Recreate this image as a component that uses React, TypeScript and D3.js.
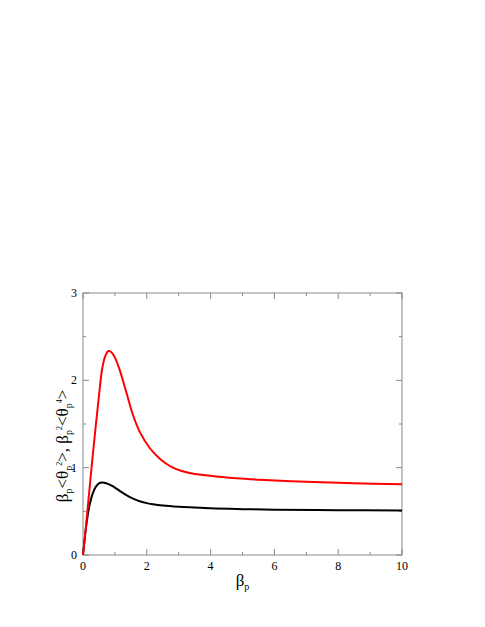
import React from "react";
import * as d3 from "d3";

const redX = [0, 0.1, 0.2, 0.3, 0.4, 0.5, 0.6, 0.7, 0.8, 0.9, 1.0, 1.15, 1.36, 1.57, 1.78, 2.09, 2.4, 2.6, 2.82, 3.05, 3.34, 3.7, 4.18, 4.8, 5.54, 7.0, 8.5, 10];
const redY = [0, 0.36, 0.74, 1.12, 1.48, 1.82, 2.13, 2.28, 2.335, 2.32, 2.26, 2.12, 1.86, 1.6, 1.41, 1.225, 1.105, 1.048, 1.0, 0.967, 0.94, 0.918, 0.9, 0.879, 0.862, 0.838, 0.822, 0.81];
const blackX = [0, 0.05, 0.1, 0.15, 0.2, 0.3, 0.4, 0.5, 0.6, 0.7, 0.8, 0.9, 1.0, 1.15, 1.36, 1.57, 1.8, 2.0, 2.2, 2.5, 3.0, 4.0, 5.0, 6.0, 8.0, 10];
const blackY = [0, 0.17, 0.33, 0.46, 0.56, 0.7, 0.78, 0.82, 0.83, 0.825, 0.812, 0.793, 0.772, 0.735, 0.685, 0.645, 0.613, 0.594, 0.58, 0.566, 0.552, 0.534, 0.525, 0.519, 0.513, 0.51];
const xTicks = [0, 2, 4, 6, 8, 10];
const xMinor = [1, 3, 5, 7, 9];
const yTicks = [0, 1, 2, 3];
const yMinor = [0.5, 1.5, 2.5];

export default function App() {
  const W = 485, H = 627;
  const L = 83, R = 402, T = 293, B = 555;
  const x = d3.scaleLinear().domain([0, 10]).range([L, R]);
  const y = d3.scaleLinear().domain([0, 3]).range([B, T]);
  const line = d3.line<[number, number]>().x(d => x(d[0])).y(d => y(d[1])).curve(d3.curveCatmullRom.alpha(0.5));
  const red = line(redX.map((v, i) => [v, redY[i]] as [number, number])) || "";
  const black = line(blackX.map((v, i) => [v, blackY[i]] as [number, number])) || "";
  const axisColor = "#888";
  const font = "'Liberation Serif', 'Times New Roman', serif";
  return (
    <svg width={W} height={H} style={{ position: "absolute", left: 0, top: 0 }}>
      <rect x={0} y={0} width={W} height={H} fill="#fff" />
      <rect x={L} y={T} width={R - L} height={B - T} fill="none" stroke={axisColor} strokeWidth={1} />
      {xTicks.map(t => (
        <g key={"xt" + t}>
          <line x1={x(t)} x2={x(t)} y1={B} y2={B - 6} stroke={axisColor} />
          <line x1={x(t)} x2={x(t)} y1={T} y2={T + 6} stroke={axisColor} />
          <text x={x(t)} y={B + 15} textAnchor="middle" fontFamily={font} fontSize={12} fill="#000">{t}</text>
        </g>
      ))}
      {xMinor.map(t => (
        <g key={"xm" + t}>
          <line x1={x(t)} x2={x(t)} y1={B} y2={B - 3} stroke={axisColor} />
          <line x1={x(t)} x2={x(t)} y1={T} y2={T + 3} stroke={axisColor} />
        </g>
      ))}
      {yTicks.map(t => (
        <g key={"yt" + t}>
          <line x1={L} x2={L + 6} y1={y(t)} y2={y(t)} stroke={axisColor} />
          <line x1={R} x2={R - 6} y1={y(t)} y2={y(t)} stroke={axisColor} />
          <text x={L - 6} y={y(t) + 4} textAnchor="end" fontFamily={font} fontSize={12} fill="#000">{t}</text>
        </g>
      ))}
      {yMinor.map(t => (
        <g key={"ym" + t}>
          <line x1={L} x2={L + 3} y1={y(t)} y2={y(t)} stroke={axisColor} />
          <line x1={R} x2={R - 3} y1={y(t)} y2={y(t)} stroke={axisColor} />
        </g>
      ))}
      <path d={black} fill="none" stroke="#000" strokeWidth={2} />
      <path d={red} fill="none" stroke="#ff0000" strokeWidth={2} />
      <text x={(L + R) / 2} y={586} textAnchor="middle" fontFamily={font} fontSize={17} fill="#000">
        β<tspan fontSize={10} dy={4}>p</tspan>
      </text>
      <text transform={`translate(68, ${(T + B) / 2 + 22}) rotate(-90)`} textAnchor="middle" fontFamily={font} fontSize={17} fill="#000">
        β<tspan fontSize={10} dy={4}>p</tspan><tspan dy={-4}>&lt;θ</tspan><tspan fontSize={10} dy={4}>p</tspan><tspan fontSize={8} dy={-10}>2</tspan><tspan dy={6}>&gt;, β</tspan><tspan fontSize={10} dy={4}>p</tspan><tspan fontSize={8} dy={-10}>2</tspan><tspan dy={6}>&lt;θ</tspan><tspan fontSize={10} dy={4}>p</tspan><tspan fontSize={8} dy={-10}>4</tspan><tspan dy={6}>&gt;</tspan>
      </text>
    </svg>
  );
}
